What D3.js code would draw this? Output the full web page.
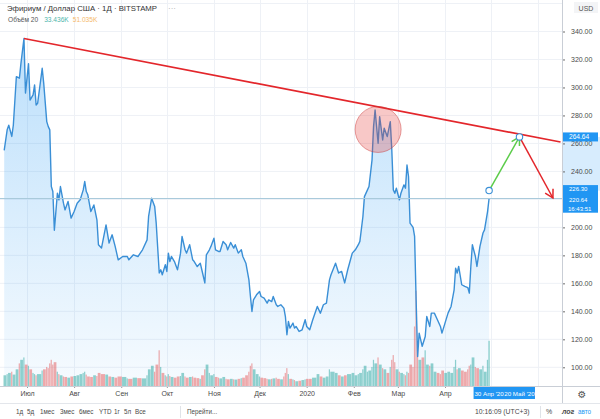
<!DOCTYPE html>
<html><head><meta charset="utf-8">
<script src="https://cdn.jsdelivr.net/npm/d3@7"></script>
<style>
html,body{margin:0;padding:0;background:#fff;}
svg{display:block;font-family:"Liberation Sans",Arial,sans-serif;}
</style></head>
<body><svg id="c" width="600" height="419"></svg>
<script>
const dates = [
"2019-06-16","2019-06-18","2019-06-19","2019-06-21","2019-06-22","2019-06-24","2019-06-26","2019-06-27","2019-06-29","2019-06-30",
"2019-07-02","2019-07-03","2019-07-05","2019-07-06","2019-07-07","2019-07-08","2019-07-11","2019-07-12","2019-07-14","2019-07-15",
"2019-07-16","2019-07-17","2019-07-18","2019-07-19","2019-07-21","2019-07-22","2019-07-23","2019-07-25","2019-07-26","2019-07-28",
"2019-07-30","2019-08-01","2019-08-03","2019-08-05","2019-08-07","2019-08-08","2019-08-09","2019-08-10","2019-08-12","2019-08-14",
"2019-08-16","2019-08-17","2019-08-19","2019-08-22","2019-08-24","2019-08-26","2019-08-28","2019-08-30","2019-09-02","2019-09-05",
"2019-09-06","2019-09-09","2019-09-12","2019-09-15","2019-09-18","2019-09-19","2019-09-21","2019-09-23","2019-09-24","2019-09-26",
"2019-09-27","2019-09-28","2019-09-30","2019-10-01","2019-10-02","2019-10-03","2019-10-04","2019-10-06","2019-10-08","2019-10-10",
"2019-10-11","2019-10-13","2019-10-14","2019-10-16","2019-10-18","2019-10-19","2019-10-21","2019-10-23","2019-10-24","2019-10-26",
"2019-10-27","2019-10-29","2019-10-30","2019-11-01","2019-11-02","2019-11-04","2019-11-05","2019-11-07","2019-11-09","2019-11-10",
"2019-11-12","2019-11-14","2019-11-15","2019-11-17","2019-11-19","2019-11-20","2019-11-22","2019-11-24","2019-11-25","2019-11-26",
"2019-11-27","2019-11-29","2019-12-01","2019-12-02","2019-12-04","2019-12-06","2019-12-07","2019-12-09","2019-12-10","2019-12-12",
"2019-12-13","2019-12-15","2019-12-17","2019-12-18","2019-12-19","2019-12-20","2019-12-21","2019-12-23","2019-12-24","2019-12-25",
"2019-12-27","2019-12-29","2019-12-31","2020-01-01","2020-01-03","2020-01-05","2020-01-08","2020-01-10","2020-01-12","2020-01-14",
"2020-01-16","2020-01-17","2020-01-20","2020-01-22","2020-01-24","2020-01-26","2020-01-28","2020-01-31","2020-02-02","2020-02-04",
"2020-02-05","2020-02-07","2020-02-08","2020-02-10","2020-02-11","2020-02-13","2020-02-14","2020-02-15","2020-02-17","2020-02-18",
"2020-02-20","2020-02-21","2020-02-23","2020-02-25","2020-02-26","2020-02-27","2020-02-28","2020-02-29","2020-03-02","2020-03-03",
"2020-03-05","2020-03-06","2020-03-07","2020-03-08","2020-03-09","2020-03-11","2020-03-12","2020-03-13","2020-03-14","2020-03-15",
"2020-03-17","2020-03-19","2020-03-20","2020-03-22","2020-03-23","2020-03-25","2020-03-27","2020-03-29","2020-03-30","2020-04-01",
"2020-04-03","2020-04-05","2020-04-07","2020-04-08","2020-04-09","2020-04-10","2020-04-12","2020-04-14","2020-04-16","2020-04-17",
"2020-04-18","2020-04-19","2020-04-21","2020-04-22","2020-04-24","2020-04-26","2020-04-27","2020-04-29","2020-04-30"
];
const prices = [
255,270,273,265,273,307.7,306.6,317,335,296,
317,291,294.7,301.8,287.5,288.7,313.7,303,275.6,272,
269.7,229.2,225.6,198,224.4,219.7,229.2,217.3,212.5,218.5,
206.6,211.3,217.3,219.7,226.8,232.8,225.6,223.3,211.3,216,
205.4,187.6,185.2,201.8,188.8,194.7,186.4,176.8,179.2,179.2,
176.8,180.4,179.2,184,191.1,207.8,220.9,215,203,167.4,
169.7,166.1,173.3,168.5,181.6,175.6,179.2,175.6,169.7,181.6,
193.5,184,181.6,187.6,176.8,175.6,172,174.4,169.7,160.3,
180.4,184,186.4,192.3,184,182.8,182.8,189.9,187.6,184,
189.2,185.2,187.6,181.6,184,179.2,174.4,162.5,150.6,139.9,
148.2,151.8,154.2,150.6,149.4,145.9,148.2,147,150.6,144.7,
143.5,144.7,142.3,136.3,123.3,132.8,128,131.6,128,129.2,
125.6,126.8,134,129.2,126.8,134,143.5,138.7,144.7,145.9,
162.5,166.1,174.4,167.4,168.5,160.3,169.7,181.6,184,187.6,
190,207.8,222,226.8,229.2,248.2,272,283.9,260.1,279.1,
262.5,270.9,264.9,275.6,255.4,226.8,224.4,228,219.7,224.4,
230.4,228,244.6,236.3,203,200,193.5,148.2,107.7,124.4,
115,122,136.3,129.2,138.7,138.7,134,129.2,124.4,131.6,
138.7,143.5,155.4,170.9,167.4,172.1,159,157.8,157,153,
172.1,187.6,179.2,172.1,186.4,196,198.2,211.3,220.64
];
const volumes = [
45,50,55,60,48,70,95,110,120,90,
85,70,55,50,45,50,65,70,80,75,
95,110,90,100,60,50,45,40,38,35,
40,42,45,50,55,60,48,40,38,45,
42,55,50,48,40,38,35,40,38,32,
30,35,33,32,45,70,85,60,90,150,
80,55,45,40,50,42,38,35,40,42,
55,40,35,38,40,35,33,30,45,70,
90,55,45,50,38,35,32,38,30,28,
30,28,27,30,33,35,45,60,85,95,
70,50,40,35,33,30,28,30,32,35,
30,28,40,55,75,50,30,28,25,20,
22,25,28,30,30,35,50,40,35,40,
70,60,55,45,40,45,50,55,45,50,
55,70,85,60,65,80,110,95,120,90,
75,70,55,80,110,130,100,70,60,55,
50,45,60,55,90,80,250,400,180,110,
120,150,90,85,95,60,55,50,65,55,
60,55,80,110,70,75,65,60,70,85,
90,120,80,75,70,85,60,110,190
];
const priceTicks = [100,120,140,160,180,200,220,240,260,280,300,320,340];
const monthTicks = ["2019-07-01","2019-08-01","2019-09-01","2019-10-01","2019-11-01","2019-12-01","2020-01-01","2020-02-01","2020-03-01","2020-04-01"];
const monthLabels = ["Июл","Авг","Сен","Окт","Ноя","Дек","2020","Фев","Мар","Апр"];
const trendLine = [["2019-06-29",335],["2020-06-16",261]];
const highlight = {date:"2020-02-17", price:270};
const greenArrow = [["2020-04-30",226.30],["2020-05-20",264.64]];
const redArrow = [["2020-05-20",264.64],["2020-06-11",221]];
const lastPrice = 220.64;
const rangeDates = ["30 Апр '20","20 Май '20"];
const periods = ["1д","5д","1мес","3мес","6мес","YTD","1г","5л","Все"];

const parse = d3.timeParse("%Y-%m-%d");
const data = dates.map((d,i)=>({date:parse(d), price:prices[i], vol:volumes[i], up: i===0 ? true : prices[i]>=prices[i-1]}));

const W=600, H=419, PR=562, PB=386;
const svg = d3.select("#c");
const x = d3.scaleTime().domain([parse("2019-07-01"), parse("2020-04-01")]).range([27,445]);
const y = d3.scaleLinear().domain([100,340]).range([367.3,31.5]);
const yv = d3.scaleLinear().domain([0,420]).range([PB, PB-100]);

const defs = svg.append("defs");
defs.append("clipPath").attr("id","plot").append("rect").attr("x",0).attr("y",0).attr("width",PR).attr("height",PB);
const grad = defs.append("linearGradient").attr("id","ag").attr("x1",0).attr("x2",0).attr("y1",0).attr("y2",1);
grad.append("stop").attr("offset","0%").attr("stop-color","rgba(33,150,243,0.30)");
grad.append("stop").attr("offset","100%").attr("stop-color","rgba(33,150,243,0.04)");
function marker(id,color){
  defs.append("marker").attr("id",id).attr("viewBox","-10 -6 12 12").attr("refX",0).attr("refY",0)
    .attr("markerWidth",12).attr("markerHeight",12).attr("markerUnits","userSpaceOnUse").attr("orient","auto")
    .append("path").attr("d","M-8,-4.5 L0,0 L-8,4.5").attr("fill","none").attr("stroke",color).attr("stroke-width",1.5);
}
marker("mg","#5ccc4a"); marker("mr","#e3262b");

const g = svg.append("g").attr("clip-path","url(#plot)");
g.selectAll(".hg").data(d3.range(100,380,20)).join("line")
  .attr("x1",0).attr("x2",PR).attr("y1",d=>y(d)).attr("y2",d=>y(d))
  .attr("stroke","#eef1f6").attr("stroke-width",1);
g.selectAll(".vg").data(monthTicks.concat(["2020-05-01","2020-06-01"])).join("line")
  .attr("x1",d=>Math.round(x(parse(d)))+0.5).attr("x2",d=>Math.round(x(parse(d)))+0.5).attr("y1",0).attr("y2",PB)
  .attr("stroke","#eef1f6").attr("stroke-width",1);

g.selectAll(".vb").data(data).join("rect")
  .attr("x",d=>x(d.date)-0.7)
  .attr("width",(d,i)=> i<data.length-1 ? Math.max(1.2, x(data[i+1].date)-x(d.date)-0.3) : 1.4)
  .attr("y",d=>yv(d.vol)).attr("height",d=>PB-yv(d.vol))
  .attr("fill",d=>d.up ? "rgba(38,166,154,0.5)" : "rgba(239,83,80,0.5)");

g.append("path").datum(data)
  .attr("d", d3.area().x(d=>x(d.date)).y0(PB).y1(d=>y(d.price)))
  .attr("fill","url(#ag)");
g.append("path").datum(data)
  .attr("d", d3.line().x(d=>x(d.date)).y(d=>y(d.price)))
  .attr("fill","none").attr("stroke","#3a8fd6").attr("stroke-width",1.4).attr("stroke-linejoin","round");

g.append("line").attr("x1",0).attr("x2",PR).attr("y1",y(lastPrice)).attr("y2",y(lastPrice))
  .attr("stroke","#a9cadb").attr("stroke-width",1);

g.append("line")
  .attr("x1",x(parse(trendLine[0][0]))).attr("y1",y(trendLine[0][1]))
  .attr("x2",x(parse(trendLine[1][0]))).attr("y2",y(trendLine[1][1]))
  .attr("stroke","#e3262b").attr("stroke-width",1.7);

g.append("circle").attr("cx",x(parse(highlight.date))).attr("cy",y(highlight.price)).attr("r",23)
  .attr("fill","rgba(229,57,53,0.28)").attr("stroke","rgba(200,50,50,0.45)").attr("stroke-width",1);

function arrow(pts,color,m){
  g.append("line").attr("x1",x(parse(pts[0][0]))).attr("y1",y(pts[0][1]))
   .attr("x2",x(parse(pts[1][0]))).attr("y2",y(pts[1][1]))
   .attr("stroke",color).attr("stroke-width",1.5).attr("marker-end",`url(#${m})`);
}
arrow(greenArrow,"#5ccc4a","mg");
arrow(redArrow,"#e3262b","mr");
g.selectAll(".pt").data(greenArrow).join("circle")
  .attr("cx",d=>x(parse(d[0]))).attr("cy",d=>y(d[1])).attr("r",3.2)
  .attr("fill","#fff").attr("stroke","#3a8fd6").attr("stroke-width",1.1);

// right axis
const yTop = y(greenArrow[1][1]), yPt = y(greenArrow[0][1]), yLast = y(lastPrice);
const ra = svg.append("g").attr("transform",`translate(${PR},0)`);
ra.append("rect").attr("x",0).attr("y",yTop).attr("width",W-PR).attr("height",yPt-yTop)
  .attr("fill","rgba(33,150,243,0.18)");
const axR = d3.axisRight(y).tickValues(priceTicks).tickFormat(d3.format(".2f")).tickSize(3).tickPadding(6);
ra.call(axR);
ra.select(".domain").remove();
ra.selectAll(".tick line").attr("stroke","#6b6b6b");
ra.selectAll(".tick text").attr("fill","#4a4a4a").style("font-size","7px");
// labels hidden behind the price boxes
ra.selectAll(".tick").filter(d=>[yTop,yPt,yLast].some(v=>Math.abs(y(d)-v)<6)).select("text").remove();
ra.append("rect").attr("x",12).attr("y",2).attr("width",24).attr("height",11).attr("fill","#f3f4f6");
ra.append("text").attr("x",24).attr("y",10.5).attr("text-anchor","middle").attr("fill","#555").style("font-size","7px").text("USD");

ra.append("rect").attr("x",1).attr("y",yTop-4.5).attr("width",35).attr("height",9).attr("fill","#2196f3");
ra.append("text").attr("x",7).attr("y",yTop+2.3).attr("fill","#fff").style("font-size","6.6px").text(d3.format(".2f")(greenArrow[1][1]));
ra.append("rect").attr("x",1).attr("y",yPt-5.5).attr("width",35).attr("height",9).attr("fill","#2196f3");
ra.append("text").attr("x",7).attr("y",yPt+0.8).attr("fill","#fff").style("font-size","6px").text(d3.format(".2f")(greenArrow[0][1]));
ra.append("rect").attr("x",1).attr("y",yLast-4.8).attr("width",35).attr("height",19).attr("fill","#2196f3");
ra.append("text").attr("x",7).attr("y",yLast+3.6).attr("fill","#fff").style("font-size","6px").text(d3.format(".2f")(lastPrice));
ra.append("text").attr("x",6).attr("y",yLast+12.2).attr("fill","#fff").style("font-size","6px").text("16:43:51");

// bottom axis
const ba = svg.append("g").attr("transform",`translate(0,${PB})`);
ba.append("rect").attr("x",x(parse(greenArrow[0][0]))).attr("y",0)
  .attr("width",x(parse(greenArrow[1][0]))-x(parse(greenArrow[0][0]))).attr("height",14).attr("fill","rgba(33,150,243,0.18)");
const axB = d3.axisBottom(x).tickValues(monthTicks.map(parse)).tickFormat((d,i)=>monthLabels[i]).tickSize(2).tickPadding(3);
ba.call(axB);
ba.select(".domain").remove();
ba.selectAll(".tick line").attr("stroke","#9a9a9a");
ba.selectAll(".tick text").attr("fill","#4a4a4a").style("font-size","7px");
greenArrow.forEach((p,i)=>{
  const cx = x(parse(p[0]));
  ba.append("rect").attr("x",cx-15.5).attr("y",1).attr("width",31).attr("height",12).attr("fill","#2196f3");
  ba.append("text").attr("x",cx).attr("y",9.8).attr("text-anchor","middle").attr("fill","#fff").style("font-size","6.2px").text(rangeDates[i]);
});

// frame
svg.append("line").attr("x1",PR+0.5).attr("x2",PR+0.5).attr("y1",0).attr("y2",403).attr("stroke","#c9ced6");
svg.append("line").attr("x1",0).attr("x2",W).attr("y1",PB+0.5).attr("y2",PB+0.5).attr("stroke","#c9ced6");
svg.append("line").attr("x1",0).attr("x2",W).attr("y1",403.5).attr("y2",403.5).attr("stroke","#e3e6eb");
svg.append("rect").attr("x",PR+1).attr("y",PB+1).attr("width",W-PR-1).attr("height",16).attr("fill","#fff");
svg.append("text").attr("x",582).attr("y",397.5).attr("text-anchor","middle").attr("fill","#555")
  .style("font-family","DejaVu Sans").style("font-size","10px").text("⚙");

// legend
svg.append("text").attr("x",7).attr("y",11).attr("fill","#333").style("font-size","7.8px")
  .text("Эфириум / Доллар США · 1Д · BITSTAMP");
svg.append("text").attr("x",168).attr("y",11).attr("fill","#aaa").style("font-size","8px").text("···");
const lg = svg.append("text").attr("x",8).attr("y",22).style("font-size","6.6px");
lg.append("tspan").attr("fill","#555").text("Объём 20");
lg.append("tspan").attr("dx",6).attr("fill","#4db6ac").text("33.436K");
lg.append("tspan").attr("dx",4).attr("fill","#f5b869").text("51.035K");

// toolbar
const tb = svg.append("g").style("font-size","6.3px").attr("fill","#4a4a4a");
const pX = [16,27,40,60,79,99,114,124,135];
periods.forEach((p,i)=> tb.append("text").attr("x",pX[i]).attr("y",414).text(p));
svg.append("line").attr("x1",180.5).attr("x2",180.5).attr("y1",406).attr("y2",418).attr("stroke","#e0e3e8");
tb.append("text").attr("x",187).attr("y",414).text("Перейти...");
tb.append("text").attr("x",475).attr("y",414).style("font-size","6.8px").text("10:16:09 (UTC+3)");
svg.append("line").attr("x1",540.5).attr("x2",540.5).attr("y1",406).attr("y2",418).attr("stroke","#e0e3e8");
tb.append("text").attr("x",546).attr("y",414).style("font-size","7px").text("%");
tb.append("text").attr("x",562).attr("y",414).style("font-size","7px").style("font-style","italic").style("font-weight","bold").text("лог");
tb.append("text").attr("x",578).attr("y",414).attr("fill","#2196f3").style("font-size","6.3px").text("авто");
</script></body></html>
